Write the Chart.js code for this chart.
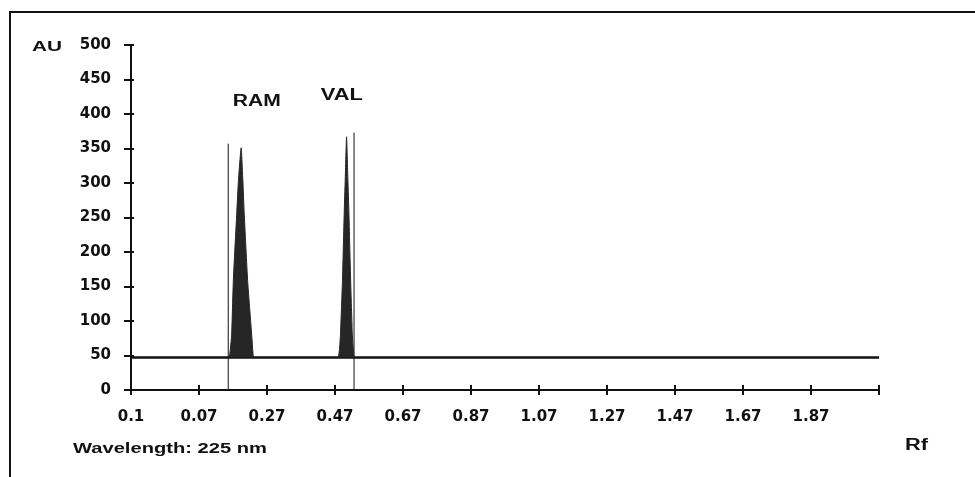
<!DOCTYPE html>
<html>
<head>
<meta charset="utf-8">
<script src="https://cdn.jsdelivr.net/npm/chart.js@4.4.1/dist/chart.umd.min.js"></script>
<style>
  html, body { margin: 0; padding: 0; background: #fff; }
  #wrap { position: relative; width: 975px; height: 477px; overflow: hidden; }
  #frame { position: absolute; left: 9px; top: 11px; right: -5px; bottom: -5px;
           border-top: 2px solid #111; border-left: 2px solid #111; pointer-events: none; }
  canvas { position: absolute; left: 0; top: 0; }
</style>
</head>
<body>
<div id="wrap">
  <canvas id="chart" width="975" height="477"></canvas>
  <div id="frame"></div>
</div>
<script>
// tick positions on the Rf axis and the labels printed under them
const xTickValues = [-0.13, 0.07, 0.27, 0.47, 0.67, 0.87, 1.07, 1.27, 1.47, 1.67, 1.87, 2.07];
const xTickLabels = ['0.1', '0.07', '0.27', '0.47', '0.67', '0.87', '1.07', '1.27', '1.47', '1.67', '1.87', ''];

// baseline of the densitogram
const baselineRf = [-0.13, 2.07];
const baselineAU = [47, 47];

// RAM peak
const ramRf = [0.159, 0.162, 0.166, 0.171, 0.181, 0.186, 0.194, 0.199, 0.203, 0.213, 0.225, 0.228, 0.230];
const ramAU = [47, 58, 80, 159, 256, 304, 351, 304, 256, 159, 80, 58, 47];

// VAL peak
const valRf = [0.480, 0.483, 0.486, 0.492, 0.497, 0.500, 0.504, 0.508, 0.511, 0.516, 0.521, 0.524, 0.526];
const valAU = [47, 58, 80, 159, 256, 304, 367, 304, 256, 159, 80, 58, 47];

// integration limit lines
const ramLimitRf = [0.156, 0.156];
const ramLimitAU = [0, 357];
const valLimitRf = [0.526, 0.526];
const valLimitAU = [0, 373];

const peakLabels = [
  { text: 'RAM', rf: 0.24, au: 412, width: 48 },
  { text: 'VAL', rf: 0.49, au: 421, width: 42 }
];

const toPoints = (xs, ys) => xs.map((x, i) => ({ x, y: ys[i] }));

const peakColor = '#262626';
const tickFont = { family: 'DejaVu Sans', size: 15, weight: 'bold' };

function fitText(ctx, text, x, y, width, size, align) {
  ctx.save();
  ctx.font = `bold ${size}px "Liberation Sans", Arial, sans-serif`;
  ctx.textBaseline = 'alphabetic';
  ctx.fillStyle = '#111';
  const w = ctx.measureText(text).width;
  const sx = width / w;
  const left = align === 'center' ? x - width / 2 : x;
  ctx.translate(left, y);
  ctx.scale(sx, 1);
  ctx.fillText(text, 0, 0);
  ctx.restore();
}

const textPlugin = {
  id: 'texts',
  afterDraw(chart) {
    const { ctx, scales } = chart;
    const xs = scales.x;
    const ys = scales.y;

    // tick marks crossing into the plot, like the original
    ctx.save();
    ctx.strokeStyle = '#111';
    ctx.lineWidth = 2;
    xTickValues.forEach((v) => {
      const px = Math.round(xs.getPixelForValue(v));
      ctx.beginPath();
      ctx.moveTo(px, ys.bottom);
      ctx.lineTo(px, ys.bottom - 5);
      ctx.stroke();
    });
    ys.ticks.forEach((t) => {
      const py = Math.round(ys.getPixelForValue(t.value));
      ctx.beginPath();
      ctx.moveTo(xs.left, py);
      ctx.lineTo(xs.left + 3, py);
      ctx.stroke();
    });
    ctx.restore();

    fitText(ctx, 'AU', 32, 51, 30, 15);
    peakLabels.forEach((p) => {
      fitText(ctx, p.text, xs.getPixelForValue(p.rf), ys.getPixelForValue(p.au), p.width, 16, 'center');
    });
    fitText(ctx, 'Wavelength: 225 nm', 73, 453, 194, 14);
    fitText(ctx, 'Rf', 905, 450, 23, 16);
  }
};

new Chart(document.getElementById('chart'), {
  type: 'line',
  data: {
    datasets: [
      {
        label: 'RAM',
        data: toPoints(ramRf, ramAU),
        borderColor: peakColor,
        backgroundColor: peakColor,
        borderWidth: 1,
        pointRadius: 0,
        tension: 0.15,
        fill: { value: 47 }
      },
      {
        label: 'VAL',
        data: toPoints(valRf, valAU),
        borderColor: peakColor,
        backgroundColor: peakColor,
        borderWidth: 1,
        pointRadius: 0,
        tension: 0.15,
        fill: { value: 47 }
      },
      {
        label: 'baseline',
        data: toPoints(baselineRf, baselineAU),
        borderColor: '#111',
        borderWidth: 2.5,
        pointRadius: 0,
        fill: false
      },
      {
        label: 'RAM limit',
        data: toPoints(ramLimitRf, ramLimitAU),
        borderColor: '#111',
        borderWidth: 1,
        pointRadius: 0,
        fill: false
      },
      {
        label: 'VAL limit',
        data: toPoints(valLimitRf, valLimitAU),
        borderColor: '#111',
        borderWidth: 1,
        pointRadius: 0,
        fill: false
      }
    ]
  },
  options: {
    responsive: false,
    animation: false,
    devicePixelRatio: 1,
    layout: { padding: { left: 0, right: 96, top: 45, bottom: 0 } },
    plugins: {
      legend: { display: false },
      tooltip: { enabled: false }
    },
    scales: {
      x: {
        type: 'linear',
        min: -0.13,
        max: 2.07,
        afterBuildTicks: (scale) => {
          scale.ticks = xTickValues.map((value) => ({ value }));
        },
        afterFit: (scale) => { scale.height = 87; },
        border: { display: true, color: '#111', width: 2 },
        grid: { drawOnChartArea: false, drawTicks: true, tickLength: 5, color: '#111', lineWidth: 2 },
        ticks: {
          color: '#111',
          font: tickFont,
          padding: 13,
          maxRotation: 0,
          autoSkip: false,
          callback: (value, index) => xTickLabels[index]
        }
      },
      y: {
        type: 'linear',
        min: 0,
        max: 500,
        afterFit: (scale) => { scale.width = 131; },
        border: { display: true, color: '#111', width: 2 },
        grid: { drawOnChartArea: false, drawTicks: true, tickLength: 7, color: '#111', lineWidth: 2 },
        ticks: {
          color: '#111',
          font: tickFont,
          padding: 13,
          stepSize: 50
        }
      }
    }
  },
  plugins: [textPlugin]
});
</script>
</body>
</html>
